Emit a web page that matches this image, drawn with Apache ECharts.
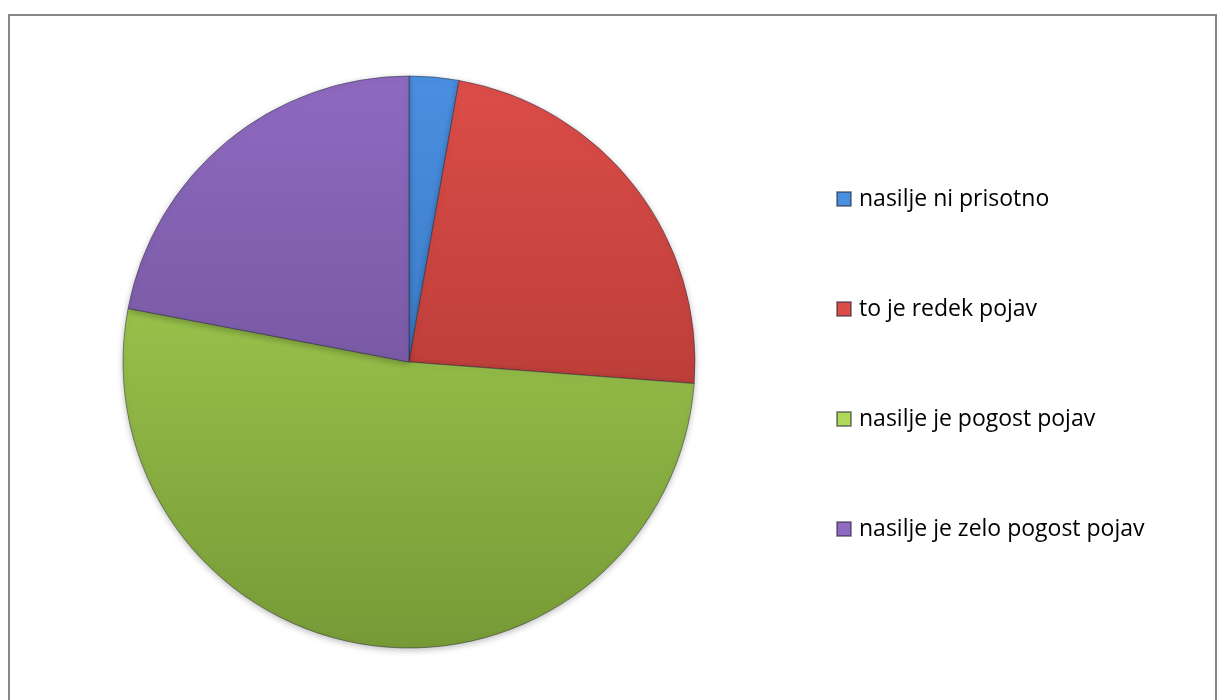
<!DOCTYPE html>
<html>
<head>
<meta charset="utf-8">
<script src="https://cdn.jsdelivr.net/npm/echarts@6/dist/echarts.min.js"></script>
<style>html,body{margin:0;padding:0;background:#fff;}#c{width:1217px;height:700px;}</style>
</head>
<body>
<div id="c"></div>
<script>
var categories = ['nasilje ni prisotno', 'to je redek pojav', 'nasilje je pogost pojav', 'nasilje je zelo pogost pojav'];
var values = [2.8, 23.4, 51.8, 22.0];
var topColors = ['#4A8FE0', '#DC4D48', '#AEDA58', '#8E6AC0'];
var bottomColors = ['#2F6AB0', '#A2322E', '#769A36', '#654A8A'];

function grad(i) {
  return new echarts.graphic.LinearGradient(0, 76, 0, 648, [
    { offset: 0, color: topColors[i] },
    { offset: 1, color: bottomColors[i] }
  ], true);
}

var chart = echarts.init(document.getElementById('c'));
chart.setOption({
  animation: false,
  backgroundColor: '#ffffff',
  graphic: [{
    type: 'rect',
    shape: { x: 9, y: 15, width: 1207, height: 700 },
    style: { fill: 'none', stroke: '#868686', lineWidth: 2 }
  }],
  legend: {
    orient: 'vertical',
    left: 836,
    top: 186,
    padding: 0,
    itemWidth: 14,
    itemHeight: 14,
    itemGap: 84,
    icon: 'rect',
    textStyle: { fontFamily: 'Open Sans', fontSize: 23, color: '#000', lineHeight: 26, padding: [0, 0, 0, 3] },
    data: categories
  },
  series: [{
    type: 'pie',
    center: [409, 362],
    radius: [0, 286],
    startAngle: 90,
    clockwise: true,
    label: { show: false },
    labelLine: { show: false },
    emphasis: { disabled: true },
    itemStyle: { borderColor: 'rgba(40,40,60,0.5)', borderWidth: 1, shadowBlur: 6, shadowColor: 'rgba(0,0,0,0.25)', shadowOffsetY: 2 },
    data: categories.map(function (n, i) {
      return { name: n, value: values[i], itemStyle: { color: grad(i) } };
    })
  }]
});
</script>
</body>
</html>
